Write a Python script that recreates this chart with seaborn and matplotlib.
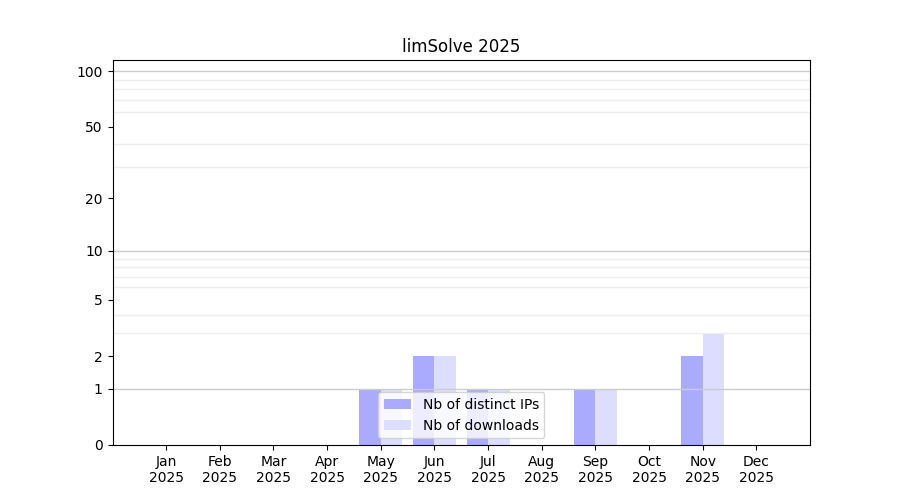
import numpy as np
import pandas as pd
import seaborn as sns
import matplotlib.pyplot as plt
from matplotlib import ticker

months = ['Jan', 'Feb', 'Mar', 'Apr', 'May', 'Jun', 'Jul', 'Aug', 'Sep', 'Oct', 'Nov', 'Dec']
year = '2025'
distinct_ips = [0, 0, 0, 0, 1, 2, 1, 0, 1, 0, 2, 0]
downloads = [0, 0, 0, 0, 1, 2, 1, 0, 1, 0, 3, 0]
series_names = ['Nb of distinct IPs', 'Nb of downloads']
series_colors = ['#aaaaff', '#ddddff']
y_ticks = [0, 1, 2, 5, 10, 20, 50, 100]


def generate_chart():
    df = pd.DataFrame({
        'month': months * 2,
        'value': distinct_ips + downloads,
        'series': [series_names[0]] * len(months) + [series_names[1]] * len(months),
    })

    fig, ax = plt.subplots(figsize=(9, 5), dpi=100)
    sns.barplot(data=df, x='month', y='value', hue='series', order=months,
                hue_order=series_names, palette=series_colors, width=0.8,
                saturation=1, ax=ax)

    # log(x+1) scale so zero counts still show
    ax.set_yscale('function', functions=(lambda v: np.log10(np.clip(v, 0, None) + 1),
                                          lambda v: 10 ** v - 1))
    ax.set_ylim(0, 115)
    ax.yaxis.set_major_locator(ticker.FixedLocator(y_ticks))
    ax.yaxis.set_major_formatter(ticker.FixedFormatter([str(t) for t in y_ticks]))
    minor = [m * d for d in (1, 10) for m in range(2, 10)]
    ax.yaxis.set_minor_locator(ticker.FixedLocator(minor))
    ax.yaxis.set_minor_formatter(ticker.NullFormatter())
    ax.tick_params(axis='y', which='minor', length=0)

    # major lines only at decades
    for v in (1, 10, 100):
        ax.axhline(v, color='#cccccc', linewidth=1, zorder=1.5)
    ax.yaxis.grid(True, which='minor', color='#eeeeee', linewidth=1)

    ax.set_xlim(-1, 12)
    ax.set_xticks(range(len(months)))
    ax.set_xticklabels([f'{m}\n{year}' for m in months])
    ax.set_xlabel('')
    ax.set_ylabel('')
    ax.set_title('limSolve 2025')

    sns.move_legend(ax, 'lower center', title=None)

    plt.savefig('out.png', dpi=100)
    plt.close()


if __name__ == "__main__":
    generate_chart()
